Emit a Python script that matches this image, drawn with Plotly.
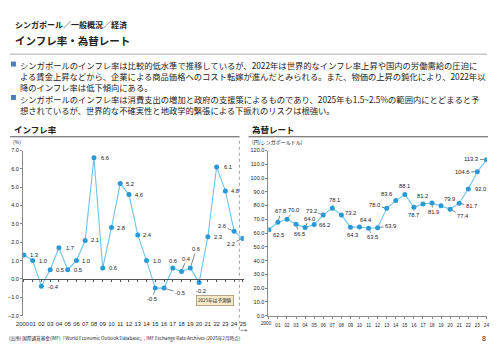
import plotly.graph_objects as go

# --- data ---
infl_years = ["2000", "01", "02", "03", "04", "05", "06", "07", "08", "09", "10", "11", "12",
              "13", "14", "15", "16", "17", "18", "19", "20", "21", "22", "23", "24", "25"]
infl_values = [1.3, 1.0, -0.4, 0.5, 1.7, 0.5, 1.0, 2.1, 6.6, 0.6, 2.8, 5.2, 4.6,
               2.4, 1.0, -0.5, -0.5, 0.6, 0.4, 0.6, -0.2, 2.3, 6.1, 4.8, 2.6, 2.2]

fx_years = ["2000", "01", "02", "03", "04", "05", "06", "07", "08", "09", "10", "11", "12",
            "13", "14", "15", "16", "17", "18", "19", "20", "21", "22", "23", "24"]
fx_values = [62.5, 67.8, 70.0, 66.5, 64.0, 66.2, 73.2, 78.1, 73.2, 64.3, 64.4, 63.5, 63.9,
             78.0, 83.6, 88.1, 78.7, 81.2, 81.9, 79.9, 77.4, 81.7, 92.0, 104.6, 113.3]

# label offsets in px (dx, dy down), and whether a leader line is drawn
infl_label_pos = [(10, 0, 0), (10, 0, 0), (12, 1, 0), (10, 0, 0), (11, 0, 0), (10, 0, 0),
                  (10, 0, 0), (10, 0, 0), (11, 0, 0), (10, 0, 0), (10, 0, 0), (10, 0, 0),
                  (10, 0, 0), (10, 0, 0), (10, 0, 0), (-3, 11, 1), (16, 5, 1), (0, -7, 0),
                  (5, -13, 1), (6, -19, 1), (2, 8, 0), (10, 0, 0), (11, 0, 0), (10, 0, 0),
                  (-12, -5, 1), (-12, 5, 1)]
fx_label_pos = [(10, 5, 0), (3, -11, 1), (7, -9, 1), (3, 10, 1), (4, -9, 1), (10, 0, 0),
                (-12, -4, 1), (2, -8, 1), (9, -2, 0), (2, 8, 0), (6, -7, 0), (4, 9, 1),
                (13, -2, 1), (-12, -3, 1), (-9, -7, 0), (0, -8, 0), (0, 8, 1), (0, -8, 0),
                (1, 9, 1), (8, -7, 0), (13, 7, 1), (12, 3, 1), (12, 0, 0), (-15, 0, 1),
                (-15, -1, 1)]

# the page body has an 8px margin, so the figure is shifted by that much
OFF = 8
W, H = 500 - OFF, 353 - OFF
JP = "Noto Sans CJK JP"
NUM = "Liberation Sans"
LINE = "#6cc3ee"
MARK = "#2a9ad6"
TXT = "#222222"
AX = "#8a8a8a"


def px(x):
    return (x - OFF) / W


def py(y):
    return 1 - (y - OFF) / H


fig = go.Figure()

ix = list(range(len(infl_values)))
fx = list(range(len(fx_values)))

fig.add_trace(go.Scatter(x=ix, y=infl_values, mode="lines+markers",
                         line=dict(color=LINE, width=1.1),
                         marker=dict(color=MARK, size=5), xaxis="x", yaxis="y",
                         hoverinfo="skip"))
# overlay axis drawn at y=0 (just carries the tick marks)
fig.add_trace(go.Scatter(x=[0], y=[0], mode="markers", marker=dict(opacity=0),
                         xaxis="x3", yaxis="y", hoverinfo="skip"))
fig.add_trace(go.Scatter(x=fx, y=fx_values, mode="lines+markers",
                         line=dict(color=LINE, width=1.1),
                         marker=dict(color=MARK, size=5), xaxis="x2", yaxis="y2",
                         hoverinfo="skip"))

ydom = [py(318), py(150)]
tickfont = dict(family=NUM, size=5.5, color=TXT)
infl_font = dict(family=NUM, size=5.8, color=TXT)
fx_font = dict(family=NUM, size=4.6, color=TXT)

# first year label ("2000") is drawn separately, nudged left like the original
fig.update_layout(
    width=W, height=H,
    margin=dict(l=0, r=0, t=0, b=0),
    paper_bgcolor="white", plot_bgcolor="white",
    showlegend=False,
    xaxis=dict(domain=[px(23.1), px(245.2)], range=[-0.1, 25.1], anchor="y",
               tickvals=ix[1:], ticktext=infl_years[1:], ticks="", showline=False,
               tickangle=0, ticklabelstandoff=4,
               showgrid=False, zeroline=False, tickfont=infl_font),
    xaxis3=dict(overlaying="x", anchor="free", position=py(280.7), range=[-0.1, 25.1],
                tickvals=ix, showticklabels=False, ticks="outside", ticklen=2.5,
                tickcolor="#555", showline=True, linecolor="#555", linewidth=1,
                showgrid=False, zeroline=False),
    yaxis=dict(domain=ydom, range=[-2, 7], dtick=1, tickformat=".1f", anchor="x",
               ticks="outside", ticklen=2, tickcolor=AX, showline=True, linecolor=AX,
               showgrid=False, zeroline=False, tickfont=tickfont),
    xaxis2=dict(domain=[px(270), px(489.8)], range=[-0.05, 24.05], anchor="y2",
                tickvals=fx, ticktext=[""] + fx_years[1:], ticks="outside", ticklen=2,
                tickangle=0, ticklabelstandoff=3,
                tickcolor=AX, showline=True, linecolor=AX, showgrid=False,
                zeroline=False, tickfont=fx_font),
    yaxis2=dict(domain=ydom, range=[0, 120], dtick=10, tickformat=".1f", anchor="x2",
                ticks="outside", ticklen=2, tickcolor=AX, showline=True, linecolor=AX,
                showgrid=False, zeroline=False, tickfont=tickfont),
)

ann = []


def data_labels(values, pos, xref, yref):
    for i, v in enumerate(values):
        dx, dy, lead = pos[i]
        base = dict(x=i, y=v, xref=xref, yref=yref, text=f"{v:.1f}",
                    font=dict(family=NUM, size=5.8, color=TXT))
        if lead:
            base.update(showarrow=True, ax=dx, ay=dy, arrowhead=0, arrowwidth=0.6,
                        arrowcolor="#333", standoff=2.5)
        else:
            base.update(showarrow=False, xshift=dx, yshift=-dy)
        ann.append(base)


data_labels(infl_values, infl_label_pos, "x", "y")
data_labels(fx_values, fx_label_pos, "x2", "y2")

# "2000" labels, anchored to the bottom-left corner of each plot
ann.append(dict(x=0, y=-2, xref="x", yref="y", text=infl_years[0], showarrow=False,
                xshift=-1, yshift=-8, borderpad=0, font=infl_font))
ann.append(dict(x=0, y=0, xref="x2", yref="y2", text=fx_years[0], showarrow=False,
                xshift=-2, yshift=-8, borderpad=0, font=fx_font))


def txt(x, y, s, size, bold=False, color=TXT, family=JP, xanchor="left", yanchor="middle"):
    if bold:
        s = f"<b>{s}</b>"
    ann.append(dict(x=px(x), y=py(y), xref="paper", yref="paper", text=s,
                    showarrow=False, xanchor=xanchor, yanchor=yanchor, align="left",
                    font=dict(family=family, size=size, color=color)))


txt(13, 22, "シンガポール／一般概況／経済", 8, bold=True)
txt(13, 38, "インフレ率・為替レート", 10.5, bold=True)

bullets = [
    "シンガポールのインフレ率は比較的低水準で推移しているが、2022年は世界的なインフレ率上昇や国内の労働需給の圧迫に<br>"
    "よる賃金上昇などから、企業による商品価格へのコスト転嫁が進んだとみられる。また、物価の上昇の鈍化により、2022年以<br>"
    "降のインフレ率は低下傾向にある。",
    "シンガポールのインフレ率は消費支出の増加と政府の支援策によるものであり、2025年も1.5~2.5%の範囲内にとどまると予<br>"
    "想されているが、世界的な不確実性と地政学的緊張による下振れのリスクは根強い。",
]
bullet_y = [55, 89]
for y, b in zip(bullet_y, bullets):
    ann.append(dict(x=px(18), y=py(y), xref="paper", yref="paper", text=b,
                    showarrow=False, xanchor="left", yanchor="top", align="left",
                    font=dict(family=JP, size=8.3, color=TXT)))

txt(12, 128, "インフレ率", 8.5, bold=True)
txt(251, 128, "為替レート", 8.5, bold=True)
txt(11, 141, "(%)", 5)
txt(251, 141, "(円/シンガポールドル)", 5)
txt(7, 341, "(出所) 国際通貨基金(IMF)「World Economic Outlook Database」, IMF Exchange Rate Archives (2025年2月時点)", 4.6)
txt(491, 341, "8", 7, family=NUM, xanchor="right")

# forecast badge
ann.append(dict(x=px(216), y=py(308.5), xref="paper", yref="paper",
                text="2025年は予測値", showarrow=False,
                font=dict(family=JP, size=4.6, color=TXT),
                bgcolor="#f6e9c8", bordercolor="#a89270", borderwidth=0.8, borderpad=1.2))
# forecast arrow
ann.append(dict(x=px(249), y=py(333), xref="paper", yref="paper", ax=-8.5, ay=0,
                text="", showarrow=True, arrowhead=2,
                arrowsize=0.6, arrowwidth=0.7, arrowcolor="#666"))

fig.update_layout(annotations=ann)

shapes = [
    dict(type="line", xref="paper", yref="paper", x0=px(10), x1=px(490), y0=py(52), y1=py(52),
         line=dict(color="#c8c8c8", width=1.5)),
    dict(type="line", xref="paper", yref="paper", x0=px(10), x1=px(241), y0=py(136), y1=py(136),
         line=dict(color="#555", width=1)),
    dict(type="line", xref="paper", yref="paper", x0=px(250), x1=px(491), y0=py(136), y1=py(136),
         line=dict(color="#555", width=1)),
    dict(type="line", xref="x", yref="paper", x0=24.6, x1=24.6, y0=py(140), y1=py(333),
         line=dict(color="#777", width=0.7, dash="dot")),
]
for y in [62, 96]:
    shapes.append(dict(type="rect", xref="paper", yref="paper", x0=px(11), x1=px(16),
                       y0=py(y + 2.5), y1=py(y - 2.5), fillcolor="#4a7ebb", line=dict(width=0)))
fig.update_layout(shapes=shapes)

fig.write_html("out.html")
